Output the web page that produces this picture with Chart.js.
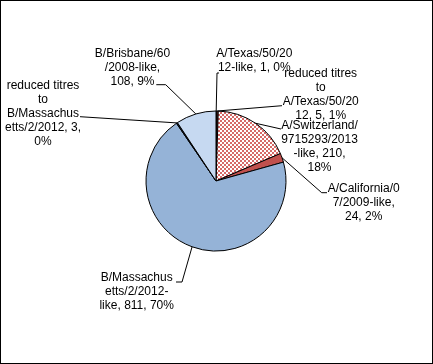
<!DOCTYPE html>
<html>
<head>
<meta charset="utf-8">
<script src="https://cdn.jsdelivr.net/npm/chart.js@4/dist/chart.umd.min.js"></script>
<style>
  html, body { margin: 0; padding: 0; background: #fff; }
  canvas { display: block; }
</style>
</head>
<body>
<canvas id="c" width="433" height="364"></canvas>
<script>
// ---- data ----
const categories = [
  'A/Texas/50/2012-like',
  'reduced titres to A/Texas/50/2012',
  'A/Switzerland/9715293/2013-like',
  'A/California/07/2009-like',
  'B/Massachusetts/2/2012-like',
  'reduced titres to B/Massachusetts/2/2012',
  'B/Brisbane/60/2008-like'
];
const values = [1, 5, 210, 24, 811, 3, 108];
const percentLabels = ['0%', '1%', '18%', '2%', '70%', '0%', '9%'];
// data label text, wrapped as in the original
const labelLines = [
  ['A/Texas/50/20', '12-like, 1, 0%'],
  ['reduced titres', 'to', 'A/Texas/50/20', '12, 5, 1%'],
  ['A/Switzerland/', '9715293/2013', '-like, 210,', '18%'],
  ['A/California/0', '7/2009-like,', '24, 2%'],
  ['B/Massachus', 'etts/2/2012-', 'like, 811, 70%'],
  ['reduced titres', 'to', 'B/Massachus', 'etts/2/2012, 3,', '0%'],
  ['B/Brisbane/60', '/2008-like,', '108, 9%']
];

// ---- layout / style (not data) ----
// label block: centre x, first line y (canvas px), leader path after slice edge
const labelLayout = [
  { x: 254.3, y: 53.5, path: [[217, 73], [219, 73]] },
  { x: 320.7, y: 73.5, path: [[282, 105.7]] },
  { x: 319.5, y: 125.7, path: [[281, 129]] },
  { x: 363.7, y: 189, path: [[321.7, 192.7], [327, 192.7]] },
  { x: 136.7, y: 278, path: [[182, 282], [176, 282]] },
  { x: 43, y: 86, path: [[80, 116.7]] },
  { x: 132.5, y: 53.5, path: [[165.7, 84.7], [156.3, 84.7]] }
];
const lineHeight = 13.9;

function checker() {
  const p = document.createElement('canvas');
  p.width = 4; p.height = 4;
  const g = p.getContext('2d');
  g.fillStyle = '#ffffff'; g.fillRect(0, 0, 4, 4);
  g.fillStyle = '#D66A68';
  g.fillRect(0, 0, 2, 2); g.fillRect(2, 2, 2, 2);
  return g.createPattern(p, 'repeat');
}
const ctx0 = document.getElementById('c').getContext('2d');
const colors = ['#3A1716', '#632523', checker(), '#C0504D', '#95B3D7', '#17375E', '#C6D9F1'];

const frame = {
  id: 'frame',
  beforeDraw(chart) {
    const c = chart.ctx;
    c.save();
    c.fillStyle = '#fff';
    c.fillRect(0, 0, chart.width, chart.height);
    c.restore();
  },
  afterDraw(chart) {
    const c = chart.ctx;
    c.save();
    c.strokeStyle = '#000';
    c.lineWidth = 1;
    c.strokeRect(0.5, 0.5, chart.width - 1, chart.height - 1);
    c.restore();
  }
};

const dataLabels = {
  id: 'dataLabels',
  afterDatasetsDraw(chart) {
    const c = chart.ctx;
    const meta = chart.getDatasetMeta(0);
    c.save();
    meta.data.forEach((arc, i) => {
      const p = arc.getProps(['x', 'y', 'startAngle', 'endAngle', 'outerRadius'], true);
      const mid = (p.startAngle + p.endAngle) / 2;
      const sx = p.x + Math.cos(mid) * p.outerRadius;
      const sy = p.y + Math.sin(mid) * p.outerRadius;
      const L = labelLayout[i];
      c.beginPath();
      c.strokeStyle = '#000';
      c.lineWidth = 1;
      c.moveTo(sx, sy);
      L.path.forEach(pt => c.lineTo(pt[0], pt[1]));
      c.stroke();
      c.fillStyle = '#000';
      c.font = '12px "Liberation Sans", Arial, sans-serif';
      c.textAlign = 'center';
      c.textBaseline = 'middle';
      labelLines[i].forEach((t, k) => c.fillText(t, L.x, L.y + k * lineHeight));
    });
    c.restore();
  }
};

new Chart(document.getElementById('c'), {
  type: 'pie',
  data: {
    labels: categories,
    datasets: [{
      data: values,
      backgroundColor: colors,
      borderColor: '#000',
      borderWidth: 1
    }]
  },
  options: {
    responsive: false,
    animation: false,
    layout: { padding: { left: 145.5, right: 146.5, top: 110.5, bottom: 112.5 } },
    plugins: {
      legend: { display: false },
      tooltip: { enabled: false }
    }
  },
  plugins: [frame, dataLabels]
});
</script>
</body>
</html>
